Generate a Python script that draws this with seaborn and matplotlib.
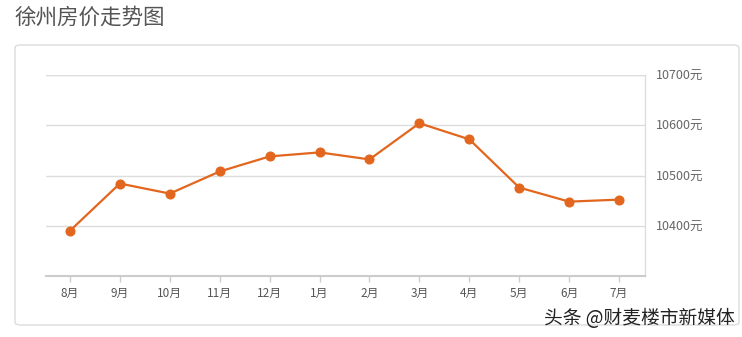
import matplotlib
matplotlib.use("Agg")
import matplotlib.pyplot as plt
import seaborn as sns
import pandas as pd
from matplotlib.patches import FancyBboxPatch

months = ["8月", "9月", "10月", "11月", "12月", "1月", "2月", "3月", "4月", "5月", "6月", "7月"]
prices = [10390, 10484, 10464, 10508, 10538, 10546, 10532, 10604, 10572, 10476, 10448, 10452]
yticks = [10400, 10500, 10600, 10700]
ytick_labels = ["10400元", "10500元", "10600元", "10700元"]

sns.set_theme(style="white")
plt.rcParams['font.family'] = ['Noto Sans CJK SC', 'DejaVu Sans']

W, H = 742, 337
fig = plt.figure(figsize=(W / 100, H / 100), dpi=100)
fig.patch.set_facecolor("white")

# card frame
card = FancyBboxPatch((15 / W, 1 - 325 / H), (739 - 15) / W, (325 - 45) / H,
                      boxstyle="round,pad=0,rounding_size=0.008",
                      transform=fig.transFigure, facecolor="white",
                      edgecolor="#dcdcdc", linewidth=1.0, zorder=-5)
fig.patches.append(card)

fig.text(15 / W, 1 - 18 / H, "徐州房价走势图", fontsize=15.5, color="#555555",
         va="center", ha="left")

ax = fig.add_axes([46 / W, 1 - 276 / H, (645 - 46) / W, (276 - 75) / H])
ax.set_zorder(2)
ax.patch.set_alpha(0)
df = pd.DataFrame({"month": months, "price": prices})
df["x"] = range(len(months))
sns.lineplot(data=df, x="x", y="price", ax=ax, color="#e2661d", linewidth=1.6,
             marker="o", markersize=6.5, markeredgecolor="#e2661d", zorder=3)

ax.set_xlim(-0.48, 11.52)
ax.set_ylim(10300, 10700)
ax.set_xticks(range(len(months)))
ax.set_xticklabels(months)
ax.set_yticks(yticks)
ax.set_yticklabels(ytick_labels)
ax.yaxis.tick_right()
ax.set_xlabel("")
ax.set_ylabel("")
ax.grid(axis="y", color="#dddddd", linewidth=1.0)
ax.axhline(10700, color="#dddddd", linewidth=1.0, zorder=1)
for s in ["top", "left"]:
    ax.spines[s].set_visible(False)
ax.spines["right"].set_color("#dddddd")
ax.spines["right"].set_linewidth(1.0)
ax.spines["bottom"].set_color("#cccccc")
ax.spines["bottom"].set_linewidth(1.5)
ax.tick_params(axis="x", bottom=True, length=4, width=1, color="#cccccc",
               labelsize=8.5, labelcolor="#555555", pad=4)
ax.tick_params(axis="y", right=False, left=False, labelsize=9, labelcolor="#666666", pad=2)

fig.text(735 / W, 1 - 318 / H, "头条 @财麦楼市新媒体", fontsize=13.5, color="#222222",
         ha="right", va="center")

fig.savefig("out.png", dpi=100, facecolor="white")
